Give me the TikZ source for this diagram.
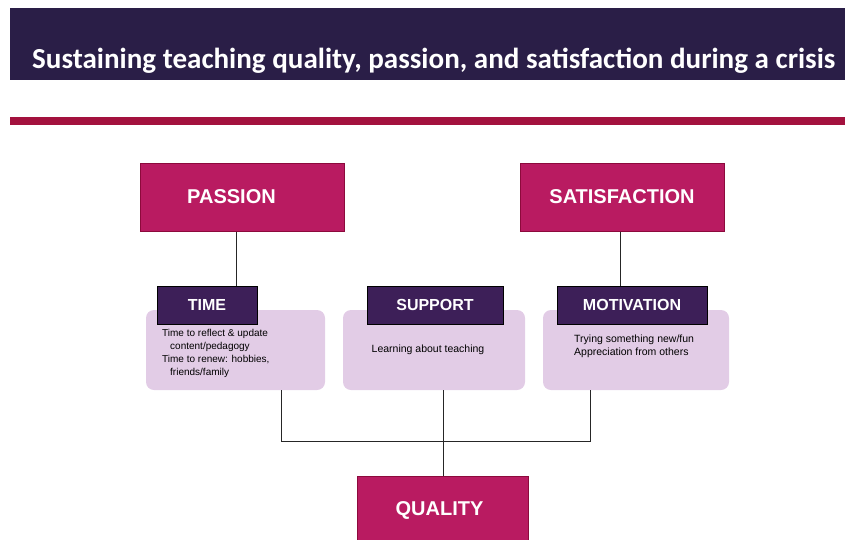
\documentclass[tikz,border=0pt]{standalone}
\usepackage{fontspec}
\setmainfont{Liberation Sans}
\newfontfamily\titlefont{Carlito}
\definecolor{barnavy}{HTML}{2A1E47}
\definecolor{redline}{HTML}{A3123E}
\definecolor{magbox}{HTML}{B91B61}
\definecolor{magborder}{HTML}{8C0A3C}
\definecolor{purplebox}{HTML}{3D1F58}
\definecolor{lilac}{HTML}{E2CCE6}
\begin{document}
\begin{tikzpicture}[x=1pt,y=-1pt,
  bigbox/.style={draw=magborder, line width=1pt, fill=magbox, minimum width=204pt, minimum height=68pt, inner sep=0pt, text=white, font=\bfseries\fontsize{20}{24}\selectfont},
  labelbox/.style={draw=black, line width=1pt, fill=purplebox, minimum height=38pt, inner sep=0pt, text=white, font=\bfseries\fontsize{16}{19}\selectfont},
  infobox/.style={fill=lilac, rounded corners=8pt, minimum height=80pt, inner sep=0pt},
  infotext/.style={inner sep=0pt, font=\fontsize{10}{13}\selectfont, text=black},
  conn/.style={draw=black!85, line width=0.8pt}]
\useasboundingbox (0,0) rectangle (845,539);
% title bar
\fill[barnavy] (10,8) rectangle (845,80);
\node[anchor=base west, inner sep=0pt, text=white] (title) at (32,68)
  {\resizebox{803pt}{!}{\titlefont\bfseries Sustaining teaching quality, passion, and satisfaction during a crisis}};
\fill[redline] (10,117) rectangle (845,125);
% top boxes
\node[bigbox] (passion) at (242,197) {PASSION\kern21pt\relax};
\node[bigbox] (satis) at (622,197) {SATISFACTION};
% info boxes
\node[infobox, minimum width=179pt] (info1) at (235.5,350) {};
\node[infobox, minimum width=182pt] (info2) at (434,350) {};
\node[infobox, minimum width=186pt] (info3) at (636,350) {};
% label boxes
\node[labelbox, minimum width=100pt] (time) at (207,305) {TIME};
\node[labelbox, minimum width=136pt] (support) at (435,305) {SUPPORT};
\node[labelbox, minimum width=150pt] (motiv) at (632,305) {MOTIVATION};
% texts
\node[infotext, anchor=north west, align=left] (t1) at (162,329)
  {Time to reflect \& update\\\hspace*{8pt}content/pedagogy\\Time to renew: hobbies,\\\hspace*{8pt}friends/family};
\node[infotext, font=\fontsize{10.5}{13}\selectfont] (t2) at (428,350) {Learning about teaching};
\node[infotext, anchor=north west, align=left, font=\fontsize{10.5}{12.5}\selectfont] (t3) at (574,335)
  {Trying something new/fun\\Appreciation from others};
% quality
\node[bigbox, minimum width=171pt] (quality) at (442.5,510) {QUALITY\kern6pt\relax};
% connectors
\coordinate (cp) at (236,0);
\coordinate (cs) at (620,0);
\coordinate (cl) at (281,441);
\coordinate (cr) at (590,441);
\coordinate (cm) at (443,0);
\draw[conn] (passion.south -| cp) -- (time.north -| cp);
\draw[conn] (satis.south -| cs) -- (motiv.north -| cs);
\draw[conn] (info1.south -| cl) -- (cl) -- (cr) -- (info3.south -| cr);
\draw[conn] (info2.south -| cm) -- (quality.north -| cm);
\end{tikzpicture}
\end{document}
